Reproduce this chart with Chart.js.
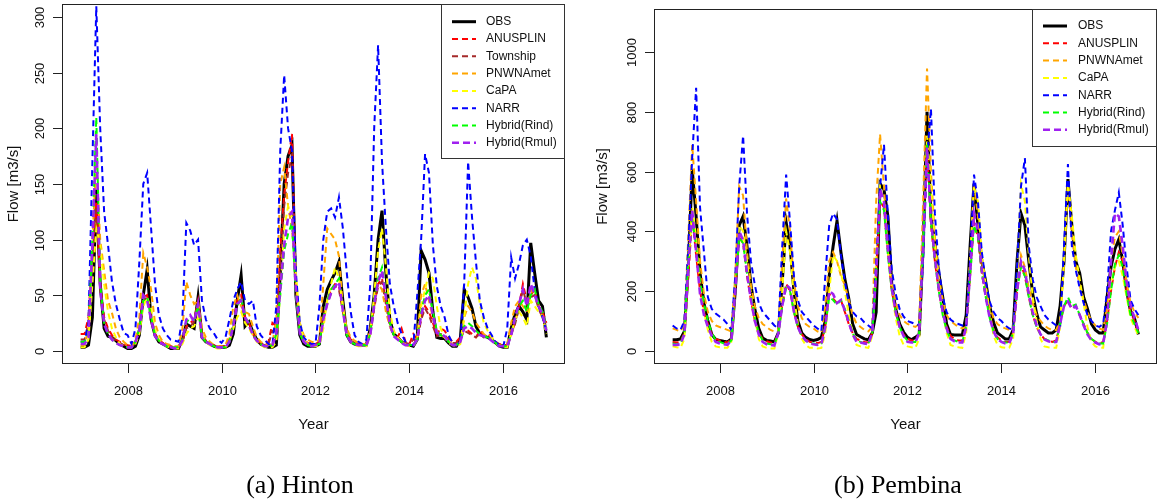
<!DOCTYPE html>
<html>
<head>
<meta charset="utf-8">
<script src="https://cdn.jsdelivr.net/npm/chart.js"></script>
<style>
  html, body { margin: 0; padding: 0; background: #fff; }
  body { width: 1157px; height: 504px; position: relative; overflow: hidden; }
  canvas { position: absolute; top: 0; }
  #hinton { left: 0; }
  #pembina { left: 580px; }
  .caption {
    position: absolute; top: 470px; line-height: 30px;
    font: 26px "Liberation Serif", "Times New Roman", serif; color: #000;
    transform: translateX(-50%); white-space: nowrap;
  }
</style>
</head>
<body>
<canvas id="hinton" width="580" height="504"></canvas>
<canvas id="pembina" width="577" height="504"></canvas>
<div class="caption" style="left:300px">(a) Hinton</div>
<div class="caption" style="left:898px">(b) Pembina</div>

<script>
// monthly steps, Jan 2007 .. Dec 2016
const months = [];
for (let i = 0; i < 120; i++) months.push(2007 + i / 12);

const yearTicks = [2008, 2010, 2012, 2014, 2016];
const hintonYTicks = [0, 50, 100, 150, 200, 250, 300];
const pembinaYTicks = [0, 200, 400, 600, 800, 1000];

// ---- Hinton, flow in m3/s (one row per year) ----
const hintonObs = [
  3, 3, 5, 30, 145, 60, 20, 13, 12, 9, 6, 4,
  2, 2, 4, 14, 50, 73, 28, 14, 8, 6, 4, 2,
  2, 2, 10, 24, 22, 20, 48, 12, 8, 6, 4, 3,
  3, 3, 5, 15, 45, 68, 22, 26, 17, 10, 6, 4,
  3, 3, 5, 70, 150, 175, 185, 50, 14, 6, 4, 4,
  4, 6, 40, 55, 63, 70, 80, 45, 14, 8, 6, 5,
  5, 5, 20, 50, 100, 126, 70, 28, 15, 12, 8, 6,
  5, 4, 10, 90, 82, 70, 35, 12, 11, 11, 7, 4,
  4, 10, 55, 48, 38, 22, 15, 13, 12, 10, 7, 4,
  3, 3, 20, 33, 40, 35, 28, 97, 70, 45, 40, 12
];
const hintonAnusplin = [
  15, 15, 30, 90, 135, 60, 30, 20, 14, 10, 8, 6,
  5, 4, 8, 20, 48, 50, 30, 15, 10, 7, 5, 4,
  3, 3, 8, 22, 25, 28, 45, 14, 9, 7, 5, 4,
  4, 4, 10, 25, 45, 50, 30, 25, 15, 10, 7, 5,
  8, 25, 22, 90, 140, 170, 195, 60, 20, 10, 7, 6,
  6, 8, 30, 45, 55, 60, 58, 40, 18, 10, 8, 6,
  6, 6, 15, 40, 60, 65, 45, 25, 15, 12, 20, 8,
  6, 15, 10, 30, 40, 35, 25, 15, 20, 18, 12, 8,
  8, 12, 20, 18, 15, 12, 18, 14, 15, 12, 8, 6,
  5, 5, 15, 25, 40, 60, 45, 50, 55, 40, 35, 25
];
const hintonTownship = [
  10, 10, 25, 85, 130, 55, 28, 18, 12, 9, 7, 5,
  4, 4, 7, 18, 45, 48, 28, 14, 9, 6, 5, 4,
  3, 3, 8, 20, 22, 26, 44, 13, 8, 6, 5, 4,
  4, 4, 9, 22, 42, 48, 28, 22, 14, 9, 6, 5,
  6, 18, 18, 75, 130, 160, 175, 55, 18, 9, 6, 5,
  6, 7, 28, 42, 52, 58, 55, 35, 16, 9, 7, 6,
  6, 6, 14, 38, 58, 62, 42, 22, 14, 11, 10, 7,
  6, 10, 9, 28, 38, 32, 22, 13, 15, 14, 10, 7,
  7, 10, 18, 16, 14, 12, 15, 12, 13, 10, 7, 5,
  5, 5, 14, 24, 38, 55, 42, 48, 50, 38, 30, 20
];
const hintonPnwnamet = [
  5, 5, 20, 100, 170, 100, 72, 45, 34, 20, 12, 8,
  5, 4, 10, 30, 88, 75, 55, 25, 14, 8, 6, 5,
  4, 4, 20, 62, 50, 42, 45, 20, 12, 8, 5, 4,
  4, 5, 15, 40, 50, 40, 35, 33, 22, 12, 8, 6,
  5, 6, 30, 150, 165, 130, 110, 60, 25, 14, 10, 8,
  7, 10, 60, 110, 105, 100, 85, 40, 20, 12, 9, 7,
  6, 6, 20, 45, 60, 55, 35, 22, 14, 10, 8, 6,
  5, 5, 12, 50, 60, 45, 30, 18, 14, 12, 8, 6,
  5, 8, 30, 40, 35, 25, 20, 15, 12, 10, 7, 5,
  4, 6, 25, 40, 45, 40, 35, 55, 50, 40, 32, 18
];
const hintonCapa = [
  3, 3, 10, 60, 110, 95, 60, 35, 20, 12, 6, 4,
  3, 3, 6, 15, 40, 48, 38, 18, 10, 6, 4, 3,
  2, 2, 6, 15, 20, 22, 30, 14, 8, 5, 3, 2,
  2, 3, 8, 20, 30, 35, 25, 20, 14, 8, 5, 3,
  3, 3, 8, 50, 110, 130, 120, 70, 25, 10, 6, 4,
  4, 5, 20, 45, 60, 75, 65, 40, 15, 8, 5, 4,
  4, 4, 15, 50, 90, 110, 75, 35, 18, 12, 8, 5,
  4, 4, 10, 40, 55, 70, 65, 40, 20, 12, 7, 5,
  4, 6, 30, 60, 75, 65, 42, 25, 18, 12, 7, 4,
  3, 3, 15, 28, 35, 30, 22, 45, 40, 35, 30, 15
];
const hintonNarr = [
  8, 8, 25, 170, 310, 200, 125, 95, 62, 42, 28, 16,
  14, 6, 20, 80, 150, 160, 110, 60, 32, 20, 14, 10,
  9, 8, 30, 115, 108, 95, 100, 45, 28, 20, 16, 10,
  7, 12, 28, 45, 55, 62, 45, 42, 45, 22, 14, 10,
  6, 5, 40, 180, 248, 200, 180, 70, 25, 12, 8, 6,
  6, 40, 100, 125, 128, 120, 138, 110, 70, 35, 14, 8,
  6, 10, 60, 200, 275, 170, 110, 60, 40, 25, 15, 8,
  5, 5, 50, 100, 177, 160, 95, 58, 40, 30, 14, 7,
  5, 8, 60, 170, 120, 80, 45, 30, 20, 14, 8, 5,
  4, 20, 84, 65, 78, 95, 100, 85, 55, 40, 30, 18
];
const hintonRind = [
  8, 8, 15, 100, 210, 60, 25, 15, 10, 7, 5, 4,
  3, 3, 8, 20, 45, 48, 30, 14, 9, 6, 4, 3,
  3, 3, 10, 25, 30, 28, 40, 12, 8, 6, 4, 3,
  3, 3, 8, 25, 40, 48, 30, 25, 15, 9, 6, 4,
  4, 5, 15, 50, 90, 105, 115, 50, 15, 8, 5, 4,
  5, 6, 30, 45, 55, 60, 65, 38, 14, 8, 6, 5,
  5, 5, 15, 45, 65, 75, 50, 25, 14, 10, 8, 5,
  5, 5, 10, 35, 50, 55, 35, 18, 14, 12, 8, 5,
  5, 8, 22, 25, 22, 18, 15, 13, 12, 10, 7, 5,
  4, 4, 15, 28, 40, 45, 35, 50, 55, 42, 35, 20
];
const hintonRmul = [
  6, 6, 12, 95, 195, 55, 24, 15, 10, 7, 5, 4,
  3, 3, 8, 18, 50, 45, 28, 13, 8, 6, 4, 3,
  2, 3, 9, 28, 32, 26, 42, 12, 8, 6, 4, 3,
  3, 3, 8, 22, 42, 45, 30, 24, 14, 9, 6, 4,
  4, 5, 15, 55, 95, 120, 125, 55, 16, 8, 5, 4,
  5, 6, 28, 42, 52, 58, 62, 36, 14, 8, 6, 5,
  5, 5, 14, 42, 62, 72, 48, 24, 13, 10, 7, 5,
  5, 5, 10, 32, 45, 50, 32, 16, 15, 13, 8, 5,
  5, 8, 20, 22, 20, 16, 14, 13, 12, 9, 6, 4,
  4, 4, 14, 30, 42, 55, 40, 60, 50, 40, 33, 18
];

// ---- Pembina, flow in m3/s ----
const pembinaObs = [
  37, 37, 40, 65, 280, 607, 450, 260, 160, 100, 55, 38,
  35, 32, 30, 40, 200, 420, 450, 350, 220, 140, 75, 43,
  35, 33, 30, 60, 230, 430, 350, 200, 100, 60, 45, 38,
  35, 38, 45, 100, 250, 350, 435, 330, 240, 175, 90, 55,
  47, 40, 37, 60, 130, 560, 540, 450, 220, 140, 90, 63,
  45, 37, 45, 55, 350, 800, 450, 360, 260, 180, 90, 55,
  53, 53, 53, 120, 350, 560, 420, 300, 230, 150, 95, 60,
  50, 40, 40, 70, 300, 460, 420, 300, 190, 125, 80, 70,
  60, 60, 70, 150, 300, 575, 420, 300, 260, 180, 140, 90,
  70, 60, 60, 180, 280, 340, 373, 300, 200, 133, 110, 55
];
const pembinaAnusplin = [
  30, 28, 30, 60, 250, 450, 320, 200, 130, 90, 55, 40,
  35, 30, 28, 40, 200, 380, 360, 250, 170, 100, 60, 40,
  32, 28, 26, 60, 150, 225, 200, 130, 80, 55, 40, 30,
  28, 26, 30, 80, 190, 175, 160, 170, 130, 90, 60, 40,
  35, 30, 28, 60, 250, 500, 480, 330, 200, 130, 80, 55,
  40, 35, 35, 60, 350, 680, 420, 300, 200, 130, 80, 50,
  40, 35, 35, 80, 250, 430, 380, 260, 180, 120, 70, 45,
  35, 30, 30, 60, 200, 290, 250, 180, 120, 80, 55, 40,
  35, 30, 35, 90, 150, 170, 140, 150, 120, 90, 60, 40,
  30, 25, 30, 100, 200, 280, 330, 300, 200, 130, 100, 60
];
const pembinaPnwnamet = [
  75, 70, 65, 90, 380, 690, 500, 300, 190, 130, 100, 85,
  80, 75, 70, 65, 250, 550, 520, 330, 220, 150, 110, 90,
  80, 70, 65, 70, 300, 510, 400, 230, 150, 110, 90, 80,
  75, 65, 60, 150, 300, 330, 300, 250, 220, 170, 120, 90,
  80, 70, 65, 80, 500, 725, 550, 350, 230, 160, 120, 100,
  90, 85, 80, 90, 500, 945, 600, 380, 250, 170, 120, 100,
  90, 80, 75, 80, 300, 560, 450, 300, 210, 150, 110, 90,
  80, 75, 70, 80, 230, 320, 280, 210, 160, 120, 100, 85,
  75, 70, 70, 100, 300, 560, 400, 280, 220, 170, 130, 100,
  85, 75, 70, 150, 300, 380, 400, 320, 230, 160, 130, 110
];
const pembinaCapa = [
  15, 12, 10, 40, 280, 480, 380, 220, 130, 70, 30, 15,
  12, 10, 10, 30, 230, 420, 400, 300, 190, 110, 40, 15,
  10, 8, 8, 60, 200, 400, 330, 180, 90, 40, 20, 10,
  10, 8, 10, 60, 200, 320, 300, 260, 200, 120, 60, 20,
  15, 12, 10, 50, 300, 550, 500, 330, 200, 110, 50, 20,
  15, 12, 10, 40, 350, 720, 550, 350, 230, 130, 60, 20,
  15, 12, 10, 60, 300, 550, 500, 320, 220, 130, 50, 20,
  12, 10, 10, 40, 250, 560, 500, 320, 180, 100, 40, 15,
  12, 10, 10, 80, 300, 560, 450, 320, 240, 160, 80, 30,
  15, 10, 10, 120, 220, 280, 300, 250, 180, 110, 80, 50
];
const pembinaNarr = [
  85, 75, 70, 100, 350, 650, 880, 480, 330, 180, 140, 125,
  115, 105, 90, 70, 250, 550, 720, 460, 300, 220, 160, 130,
  115, 100, 85, 75, 350, 590, 430, 250, 170, 130, 115, 100,
  85, 75, 65, 250, 420, 460, 440, 320, 230, 160, 130, 115,
  110, 95, 85, 75, 300, 550, 690, 450, 270, 190, 140, 115,
  100, 95, 90, 85, 300, 650, 810, 460, 280, 180, 130, 105,
  95, 90, 85, 80, 300, 590, 500, 330, 230, 165, 130, 110,
  100, 85, 75, 70, 280, 550, 645, 350, 240, 180, 150, 120,
  105, 95, 85, 80, 350, 625, 350, 270, 210, 160, 120, 100,
  85, 80, 90, 200, 400, 470, 530, 420, 280, 170, 140, 120
];
const pembinaRind = [
  25, 22, 25, 60, 300, 440, 350, 230, 160, 100, 60, 35,
  30, 25, 22, 35, 200, 380, 360, 260, 180, 110, 60, 35,
  25, 22, 20, 60, 150, 210, 200, 130, 80, 50, 35, 25,
  25, 22, 25, 80, 180, 170, 155, 170, 140, 100, 60, 35,
  30, 25, 25, 60, 250, 500, 470, 320, 200, 130, 80, 50,
  35, 30, 30, 60, 350, 690, 430, 300, 200, 120, 70, 40,
  35, 30, 30, 80, 250, 420, 380, 260, 180, 110, 65, 40,
  30, 28, 28, 60, 200, 280, 250, 180, 120, 80, 55, 40,
  35, 30, 30, 90, 150, 180, 150, 155, 120, 90, 60, 40,
  30, 25, 25, 90, 200, 290, 320, 280, 190, 120, 90, 60
];
const pembinaRmul = [
  20, 20, 22, 55, 280, 470, 330, 190, 120, 80, 50, 30,
  25, 22, 20, 35, 200, 400, 370, 260, 170, 100, 55, 30,
  22, 20, 18, 60, 150, 220, 210, 130, 80, 50, 35, 25,
  22, 20, 22, 80, 200, 190, 160, 170, 135, 95, 55, 30,
  28, 25, 22, 60, 260, 540, 500, 340, 210, 130, 80, 50,
  30, 28, 28, 60, 350, 680, 440, 310, 210, 130, 75, 40,
  32, 28, 28, 80, 260, 460, 400, 270, 180, 110, 65, 40,
  30, 25, 25, 60, 200, 300, 270, 190, 130, 85, 55, 38,
  32, 28, 30, 90, 150, 165, 140, 150, 120, 85, 55, 35,
  28, 22, 25, 100, 300, 460, 450, 350, 230, 150, 110, 70
];

const STYLES = {
  "OBS":          { color: "#000000", width: 3, dash: [] },
  "ANUSPLIN":     { color: "#FF0000", width: 2, dash: [6, 4] },
  "Township":     { color: "#A52A2A", width: 2, dash: [6, 4] },
  "PNWNAmet":     { color: "#FFA500", width: 2, dash: [6, 4] },
  "CaPA":         { color: "#FFFF00", width: 2, dash: [6, 4] },
  "NARR":         { color: "#0000FF", width: 2, dash: [6, 4] },
  "Hybrid(Rind)": { color: "#00FF00", width: 2, dash: [6, 4] },
  "Hybrid(Rmul)": { color: "#A020F0", width: 2.6, dash: [7, 4] }
};

function makeSets(series) {
  return series.map(([name, values], k) => ({
    label: name,
    data: values.map((v, i) => ({ x: months[i], y: v })),
    borderColor: STYLES[name].color,
    borderWidth: STYLES[name].width,
    borderDash: STYLES[name].dash,
    pointRadius: 0,
    fill: false,
    tension: 0,
    order: series.length - k   // first series drawn first, like R's plot()+lines()
  }));
}

const FONT = '"Liberation Sans", Arial, sans-serif';

// box, axes ticks (R style, rotated y labels), titles and legend
const rFrame = {
  id: "rFrame",
  afterDraw(chart, args, o) {
    const { ctx, chartArea: a, scales: { x, y } } = chart;
    ctx.save();
    ctx.strokeStyle = "#222";
    ctx.lineWidth = 1;
    ctx.strokeRect(a.left + 0.5, a.top + 0.5, a.right - a.left - 1, a.bottom - a.top - 1);

    ctx.fillStyle = "#111";
    ctx.font = "13px " + FONT;
    ctx.textAlign = "center";
    ctx.textBaseline = "middle";
    yearTicks.forEach(v => {
      const px = Math.round(x.getPixelForValue(v)) + 0.5;
      ctx.beginPath(); ctx.moveTo(px, a.bottom); ctx.lineTo(px, a.bottom + 9); ctx.stroke();
      ctx.fillText(String(v), px, a.bottom + 27);
    });
    o.yTicks.forEach(v => {
      const py = Math.round(y.getPixelForValue(v)) + 0.5;
      ctx.beginPath(); ctx.moveTo(a.left - 9, py); ctx.lineTo(a.left, py); ctx.stroke();
      ctx.save();
      ctx.translate(a.left - 22, py);
      ctx.rotate(-Math.PI / 2);
      ctx.fillText(String(v), 0, 0);
      ctx.restore();
    });

    ctx.font = "15px " + FONT;
    ctx.fillText("Year", (a.left + a.right) / 2, a.bottom + 61);
    ctx.save();
    ctx.translate(o.titleX, (a.top + a.bottom) / 2);
    ctx.rotate(-Math.PI / 2);
    ctx.fillText("Flow [m3/s]", 0, 0);
    ctx.restore();

    const lg = o.legend;
    ctx.fillStyle = "#fff";
    ctx.fillRect(lg.left, lg.top, lg.right - lg.left, lg.bottom - lg.top);
    ctx.strokeStyle = "#333";
    ctx.strokeRect(lg.left + 0.5, lg.top + 0.5, lg.right - lg.left - 1, lg.bottom - lg.top - 1);
    ctx.font = "12px " + FONT;
    ctx.textAlign = "left";
    chart.data.datasets.forEach((ds, k) => {
      const yy = lg.firstRow + k * lg.rowGap;
      ctx.save();
      ctx.strokeStyle = ds.borderColor;
      ctx.lineWidth = ds.borderWidth;
      ctx.setLineDash(ds.borderDash);
      ctx.beginPath(); ctx.moveTo(lg.lineX0, yy); ctx.lineTo(lg.lineX1, yy); ctx.stroke();
      ctx.restore();
      ctx.fillStyle = "#111";
      ctx.fillText(ds.label, lg.textX, yy);
    });
    ctx.restore();
  }
};

function drawPanel(id, series, yMin, yMax, pad, extra) {
  new Chart(document.getElementById(id), {
    type: "line",
    data: { datasets: makeSets(series) },
    plugins: [rFrame],
    options: {
      responsive: false,
      animation: false,
      devicePixelRatio: 1,
      layout: { padding: pad },
      scales: {
        x: { type: "linear", min: 2006.603, max: 2017.313, display: false },
        y: { type: "linear", min: yMin, max: yMax, display: false }
      },
      plugins: {
        legend: { display: false },
        tooltip: { enabled: false },
        rFrame: extra
      }
    }
  });
}

drawPanel("hinton", [
  ["OBS", hintonObs],
  ["ANUSPLIN", hintonAnusplin],
  ["Township", hintonTownship],
  ["PNWNAmet", hintonPnwnamet],
  ["CaPA", hintonCapa],
  ["NARR", hintonNarr],
  ["Hybrid(Rind)", hintonRind],
  ["Hybrid(Rmul)", hintonRmul]
], -12, 312, { left: 62, top: 4, right: 15, bottom: 140 }, {
  yTicks: hintonYTicks,
  titleX: 14,
  legend: { left: 441, top: 4, right: 565, bottom: 159, firstRow: 21.7, rowGap: 17.3,
            lineX0: 452, lineX1: 476, textX: 486 }
});

drawPanel("pembina", [
  ["OBS", pembinaObs],
  ["ANUSPLIN", pembinaAnusplin],
  ["PNWNAmet", pembinaPnwnamet],
  ["CaPA", pembinaCapa],
  ["NARR", pembinaNarr],
  ["Hybrid(Rind)", pembinaRind],
  ["Hybrid(Rmul)", pembinaRmul]
], -44, 1144, { left: 74, top: 9, right: 0, bottom: 140 }, {
  yTicks: pembinaYTicks,
  titleX: 23,
  legend: { left: 452, top: 9, right: 577, bottom: 147, firstRow: 26, rowGap: 17.3,
            lineX0: 463, lineX1: 487, textX: 498 }
});
</script>
</body>
</html>
